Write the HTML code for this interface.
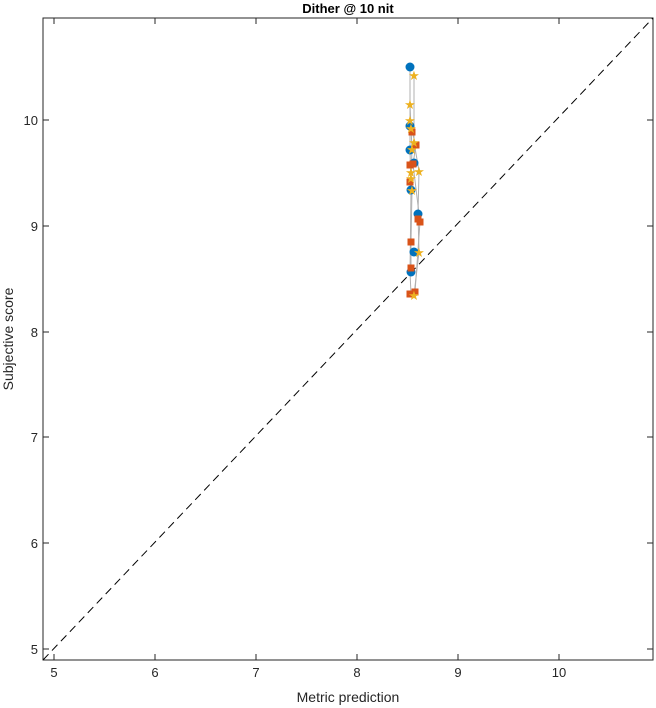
<!DOCTYPE html><html><head><style>body{margin:0;background:#fff}svg{display:block;font-family:"Liberation Sans",sans-serif}</style></head><body>
<svg width="656" height="708" viewBox="0 0 656 708">
<rect x="43" y="18" width="610" height="642" fill="#fff" stroke="#262626" stroke-width="1"/>
<line x1="43" y1="660" x2="653" y2="18" stroke="#000" stroke-dasharray="8,5" stroke-width="1"/>
<g stroke="#262626">
<line x1="54" y1="660" x2="54" y2="654"/><line x1="155" y1="660" x2="155" y2="654"/><line x1="256" y1="660" x2="256" y2="654"/><line x1="357" y1="660" x2="357" y2="654"/><line x1="458" y1="660" x2="458" y2="654"/><line x1="559" y1="660" x2="559" y2="654"/>
<line x1="54" y1="18" x2="54" y2="24"/><line x1="155" y1="18" x2="155" y2="24"/><line x1="256" y1="18" x2="256" y2="24"/><line x1="357" y1="18" x2="357" y2="24"/><line x1="458" y1="18" x2="458" y2="24"/><line x1="559" y1="18" x2="559" y2="24"/>
<line x1="43" y1="120" x2="49" y2="120"/><line x1="43" y1="226" x2="49" y2="226"/><line x1="43" y1="332" x2="49" y2="332"/><line x1="43" y1="437" x2="49" y2="437"/><line x1="43" y1="543" x2="49" y2="543"/><line x1="43" y1="649" x2="49" y2="649"/>
<line x1="653" y1="120" x2="647" y2="120"/><line x1="653" y1="226" x2="647" y2="226"/><line x1="653" y1="332" x2="647" y2="332"/><line x1="653" y1="437" x2="647" y2="437"/><line x1="653" y1="543" x2="647" y2="543"/><line x1="653" y1="649" x2="647" y2="649"/>
</g>
<g font-size="13" fill="#262626" text-anchor="middle">
<text x="54" y="677">5</text><text x="155" y="677">6</text><text x="256" y="677">7</text><text x="357" y="677">8</text><text x="458" y="677">9</text><text x="559" y="677">10</text>
</g>
<g font-size="13" fill="#262626" text-anchor="end">
<text x="38" y="125">10</text><text x="38" y="231">9</text><text x="38" y="337">8</text><text x="38" y="442">7</text><text x="38" y="548">6</text><text x="38" y="654">5</text>
</g>
<text x="348" y="702" font-size="14" fill="#262626" text-anchor="middle">Metric prediction</text>
<text transform="translate(13,339) rotate(-90)" font-size="14" fill="#262626" text-anchor="middle">Subjective score</text>
<text x="348" y="13" font-size="13" font-weight="bold" fill="#000" text-anchor="middle">Dither @ 10 nit</text>
<g stroke="#b0b0b0" fill="none" stroke-width="1">
<polyline points="410,67 410,126 410,150 411,190 410,272 411,294"/>
<polyline points="414,75 414,142 419,171 418,214 419,252 414,295"/>
<polyline points="412,132 416,145 413,164 420,222 415,292"/>
<polyline points="410,104 411,128 412,149 411,178 412,190 411,242 411,268"/>
</g>
<g fill="#0072BD">
<circle cx="410" cy="67" r="4.5"/><circle cx="410" cy="126" r="4.5"/><circle cx="410" cy="150" r="4.5"/><circle cx="414" cy="163" r="4.5"/><circle cx="411" cy="190" r="4.5"/><circle cx="418" cy="214" r="4.5"/><circle cx="414" cy="252" r="4.5"/><circle cx="411" cy="272" r="4.5"/>
</g>
<g fill="#D95319">
<rect x="408.5" y="128.5" width="7" height="7"/><rect x="412.5" y="141.5" width="7" height="7"/><rect x="406.5" y="161.5" width="7" height="7"/><rect x="409.5" y="160.5" width="7" height="7"/><rect x="406.5" y="178.5" width="7" height="7"/><rect x="414.5" y="215.5" width="7" height="7"/><rect x="416.5" y="218.5" width="7" height="7"/><rect x="407.5" y="238.5" width="7" height="7"/><rect x="407.5" y="264.5" width="7" height="7"/><rect x="406.5" y="290.5" width="7" height="7"/><rect x="411.5" y="288.5" width="7" height="7"/>
</g>
<g fill="#EDB120" font-size="13" text-anchor="middle">
<text x="414" y="80">★</text><text x="410" y="109">★</text><text x="410" y="125">★</text><text x="411" y="133">★</text><text x="414" y="147">★</text><text x="412" y="154">★</text><text x="411" y="177">★</text><text x="419" y="176">★</text><text x="411" y="183">★</text><text x="412" y="195">★</text><text x="419" y="257">★</text><text x="414" y="300">★</text>
</g>
</svg></body></html>
